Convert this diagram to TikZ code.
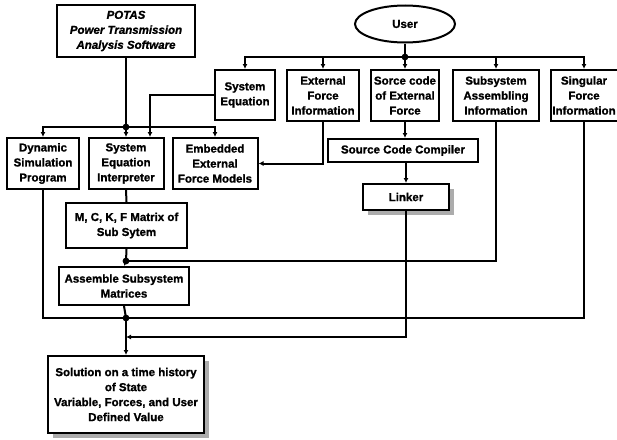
\documentclass[tikz,border=0pt]{standalone}
\usepackage{fontspec}
\setmainfont{Liberation Sans}[BoldFeatures={FakeBold=1.2}, BoldItalicFeatures={FakeBold=1.2}]
\usetikzlibrary{arrows.meta}
\usetikzlibrary{shapes.geometric}
\usetikzlibrary{shadows}

\tikzset{
  box/.style={draw, line width=2pt, fill=white, align=center, inner sep=1pt,
    font=\bfseries\fontsize{11.5}{15}\selectfont},
  shadowbox/.style={box, drop shadow={shadow xshift=5pt, shadow yshift=-5pt, fill=gray!65, opacity=1}},
  arr/.style={-{Latex[length=5pt,width=5pt]}},
  wire/.style={line width=2pt},
}

\begin{document}
\begin{tikzpicture}[x=1pt,y=-1pt]
  \useasboundingbox (0,0) rectangle (617,439);

  \node[box, minimum width=138pt, minimum height=52pt] (potas) at (126,31)
    {\itshape POTAS\\\itshape Power Transmission\\\itshape Analysis Software};
  \node[box, ellipse, minimum width=100pt, minimum height=37pt] (user) at (405,24) {User};

  \node[box, minimum width=60pt, minimum height=50pt] (syseq) at (245,95) {System\\Equation};
  \node[box, minimum width=72pt, minimum height=51pt] (extf) at (323,95.5) {External\\Force\\Information};
  \node[box, minimum width=68pt, minimum height=51pt] (srcf) at (405,95.5) {Sorce code\\of External\\Force};
  \node[box, minimum width=86pt, minimum height=51pt] (subasm) at (496,95.5) {Subsystem\\Assembling\\Information};
  \node[box, minimum width=67pt, minimum height=51pt] (singf) at (584,95.5) {Singular\\Force\\Information};

  \node[box, minimum width=72pt, minimum height=51pt] (dynsim) at (43,163.5) {Dynamic\\Simulation\\Program};
  \node[box, minimum width=75pt, minimum height=51pt] (interp) at (126,163.5) {System\\Equation\\Interpreter};
  \node[box, minimum width=85pt, minimum height=51pt] (embext) at (215,163.5) {Embedded\\External\\Force Models};
  \node[box, minimum width=150pt, minimum height=23pt] (compiler) at (403,150.5) {Source Code Compiler};
  \node[shadowbox, minimum width=86pt, minimum height=26pt] (linker) at (406,197) {Linker};

  \node[box, minimum width=121pt, minimum height=45pt] (mckf) at (126.5,225.5) {M, C, K, F Matrix of\\Sub Sytem};
  \node[box, minimum width=130pt, minimum height=38pt] (assem) at (124,286) {Assemble Subsystem\\Matrices};
  \node[shadowbox, minimum width=156pt, minimum height=77pt] (sol) at (126,394.5)
    {Solution on a time history\\of State\\Variable, Forces, and User\\Defined Value};

  \coordinate (jp) at (126,127);
  \coordinate (ju) at (405,57);
  \coordinate (jm) at (126,261);
  \coordinate (ja) at (126,318);
  \coordinate (jl) at (126,337);

  \draw[wire] (potas.south) -- (jp);
  \draw[wire,arr] (jp) -| (dynsim.north);
  \draw[wire,arr] (jp) -- (interp.north);
  \draw[wire,arr] (jp) -| (embext.north);

  \draw[wire] (user.south) -- (ju);
  \draw[wire,arr] (ju) -| (syseq.north);
  \draw[wire,arr] (ju) -| (extf.north);
  \draw[wire,arr] (ju) -- (srcf.north);
  \draw[wire,arr] (ju) -| (subasm.north);
  \draw[wire,arr] (ju) -| (singf.north);

  \draw[wire,arr] (syseq.west) -| ([xshift=24pt]interp.north);
  \draw[wire,arr] (extf.south) |- (embext.east);
  \draw[wire,arr] (srcf.south) -- (srcf.south |- compiler.north);
  \draw[wire,arr] (linker.north |- compiler.south) -- (linker.north);

  \draw[wire] (interp.south) -- (mckf.north);
  \draw[wire] (mckf.south) -- (jm);
  \draw[wire,arr] (jm) -- (assem.north);
  \draw[wire] (subasm.south) |- (jm);

  \draw[wire] (assem.south) -- (ja);
  \draw[wire] (dynsim.south) |- (ja);
  \draw[wire] (singf.south) |- (ja);
  \draw[wire,arr] (ja) -- (sol.north);
  \draw[line width=1.2pt,arr] (linker.south) |- (jl);

  \foreach \j in {jp,ju,jm,ja}
    \fill (\j) circle (3.4pt);
\end{tikzpicture}
\end{document}
